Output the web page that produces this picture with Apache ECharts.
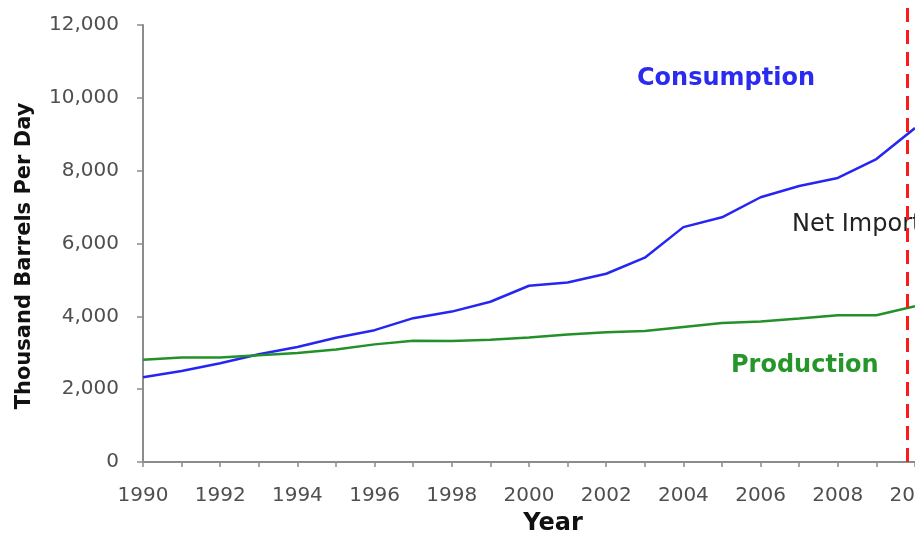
<!DOCTYPE html>
<html>
<head>
<meta charset="utf-8">
<script src="https://cdn.jsdelivr.net/npm/echarts@6/dist/echarts.min.js"></script>
<style>
  html, body { margin: 0; padding: 0; background: #fff; }
  #chart { width: 915px; height: 536px; }
</style>
</head>
<body>
<div id="chart"></div>
<script>
// data (thousand barrels per day)
const years = [1990, 1991, 1992, 1993, 1994, 1995, 1996, 1997, 1998, 1999, 2000,
  2001, 2002, 2003, 2004, 2005, 2006, 2007, 2008, 2009, 2010]
const consumption = [2330, 2500, 2710, 2960, 3160, 3410, 3620, 3950, 4130, 4400, 4840,
  4930, 5170, 5610, 6450, 6720, 7270, 7580, 7800, 8320, 9170]
const production = [2810, 2870, 2870, 2930, 2990, 3090, 3230, 3330, 3320, 3360, 3420,
  3500, 3560, 3600, 3710, 3820, 3860, 3940, 4030, 4030, 4280]
const yMin = 0
const yMax = 12000
const yStep = 2000
const cutoffYear = 2009.8

const FONT = 'DejaVu Sans'
const AXIS_GRAY = '#8c8c8c'
const LABEL_GRAY = '#4f4f4f'

const chart = echarts.init(document.getElementById('chart'))

const pairs = (vals) => years.map((y, i) => [y, vals[i]])

chart.setOption({
  animation: false,
  backgroundColor: '#fff',
  grid: [
    { left: 143, right: 0, top: 25, bottom: 74, containLabel: false, outerBoundsMode: 'none' },
    { left: 143, right: 0, top: 0, bottom: 74, containLabel: false, outerBoundsMode: 'none' },
  ],
  xAxis: [
    {
      type: 'value',
      gridIndex: 0,
      min: years[0],
      max: years[years.length - 1],
      interval: 1,
      splitLine: { show: false },
      axisLine: { lineStyle: { color: AXIS_GRAY, width: 2 } },
      axisTick: { length: 5, lineStyle: { color: AXIS_GRAY, width: 1.5 } },
      axisLabel: {
        margin: 24,
        color: LABEL_GRAY,
        fontFamily: FONT,
        fontSize: 20,
        showMinLabel: true,
        showMaxLabel: true,
        formatter: (v) => (v % 2 === 0 ? String(v) : ''),
      },
    },
    { type: 'value', gridIndex: 1, min: years[0], max: years[years.length - 1], show: false },
  ],
  yAxis: [
    {
      type: 'value',
      gridIndex: 0,
      min: yMin,
      max: yMax,
      interval: yStep,
      splitLine: { show: false },
      axisLine: { show: true, lineStyle: { color: AXIS_GRAY, width: 2 } },
      axisTick: { show: true, length: 6, lineStyle: { color: AXIS_GRAY, width: 1.5 } },
      axisLabel: {
        margin: 24,
        color: LABEL_GRAY,
        fontFamily: FONT,
        fontSize: 20,
        formatter: (v) => String(v).replace(/\B(?=(\d{3})+(?!\d))/g, ','),
      },
    },
    { type: 'value', gridIndex: 1, min: 0, max: 1, show: false },
  ],
  series: [
    {
      name: 'Consumption',
      type: 'line',
      data: pairs(consumption),
      showSymbol: false,
      lineStyle: { color: '#2626f2', width: 2.5 },
    },
    {
      name: 'Production',
      type: 'line',
      data: pairs(production),
      showSymbol: false,
      lineStyle: { color: '#23912a', width: 2.5 },
    },
    {
      name: 'cutoff',
      type: 'line',
      xAxisIndex: 1,
      yAxisIndex: 1,
      data: [[years[0], 0]],
      showSymbol: false,
      lineStyle: { opacity: 0 },
      markLine: {
        symbol: 'none',
        silent: true,
        label: { show: false },
        lineStyle: { color: '#ff1a1a', width: 3, type: [14, 8] },
        data: [{ xAxis: cutoffYear }],
      },
    },
  ],
  graphic: [
    {
      type: 'text', x: 25, y: 256, rotation: Math.PI / 2,
      style: {
        text: 'Thousand Barrels Per Day', fill: '#111',
        font: 'bold 21px "DejaVu Sans"',
        align: 'center', verticalAlign: 'middle', textAlign: 'center', textVerticalAlign: 'middle',
      },
    },
    {
      type: 'text', x: 553, y: 524,
      style: {
        text: 'Year', fill: '#111',
        font: 'bold 24px "DejaVu Sans"',
        align: 'center', verticalAlign: 'middle', textAlign: 'center', textVerticalAlign: 'middle',
      },
    },
    {
      type: 'text', x: 637, y: 79,
      style: {
        text: 'Consumption', fill: '#2b2bf0',
        font: 'bold 24px "DejaVu Sans"',
        align: 'left', verticalAlign: 'middle', textAlign: 'left', textVerticalAlign: 'middle',
      },
    },
    {
      type: 'text', x: 792, y: 225,
      style: {
        text: 'Net Imports', fill: '#222',
        font: '24px "DejaVu Sans"',
        align: 'left', verticalAlign: 'middle', textAlign: 'left', textVerticalAlign: 'middle',
      },
    },
    {
      type: 'text', x: 731, y: 366,
      style: {
        text: 'Production', fill: '#26962b',
        font: 'bold 24px "DejaVu Sans"',
        align: 'left', verticalAlign: 'middle', textAlign: 'left', textVerticalAlign: 'middle',
      },
    },
  ],
})
</script>
</body>
</html>
